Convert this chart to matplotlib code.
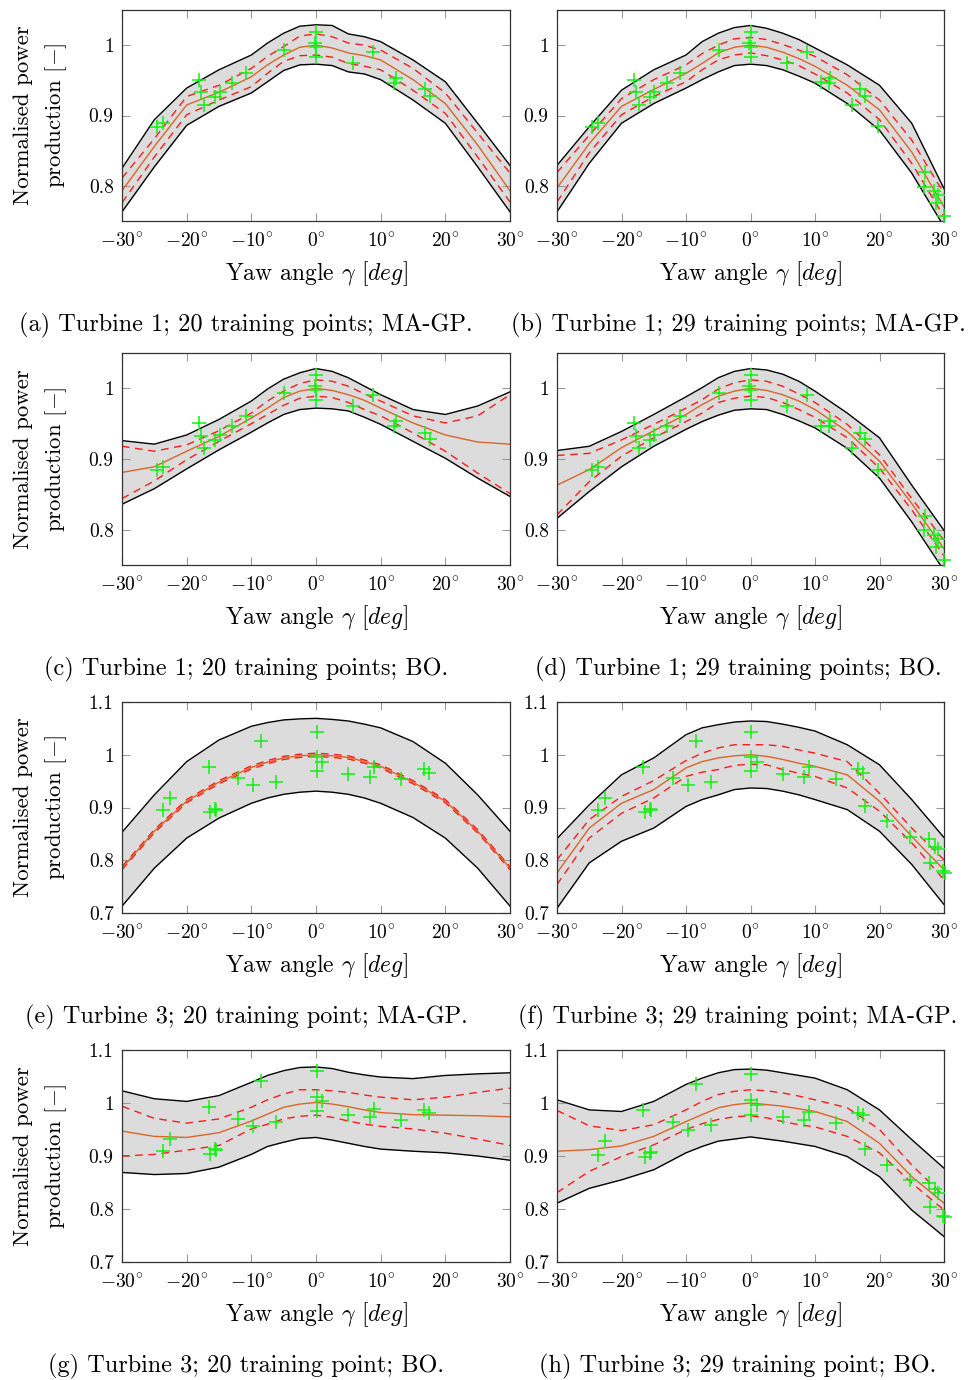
import matplotlib
matplotlib.use("Agg")
import matplotlib.pyplot as plt

plt.rcParams['font.family'] = 'serif'
plt.rcParams['font.serif'] = ['cmr10']
plt.rcParams['mathtext.fontset'] = 'cm'
plt.rcParams['axes.unicode_minus'] = False

yaw_grid = [-30, -25, -20, -15, -10, -7.5, -5, -2.5, 0, 2.5, 5, 7.5, 10, 15, 20, 25, 30]

# (a) turbine 1, 20 pts, MA-GP
a_band_hi = [0.825, 0.894, 0.939, 0.965, 0.986, 1.003, 1.017, 1.027, 1.029, 1.028, 1.016, 1.012, 1.005, 0.979, 0.948, 0.889, 0.829]
a_dash_hi = [0.811, 0.867, 0.927, 0.943, 0.967, 0.984, 0.998, 1.013, 1.016, 1.012, 1.003, 1.000, 0.993, 0.967, 0.932, 0.875, 0.818]
a_mean    = [0.793, 0.856, 0.915, 0.933, 0.955, 0.972, 0.986, 0.997, 1.000, 0.996, 0.989, 0.985, 0.979, 0.951, 0.917, 0.858, 0.793]
a_dash_lo = [0.776, 0.841, 0.901, 0.922, 0.941, 0.960, 0.977, 0.985, 0.986, 0.983, 0.974, 0.970, 0.965, 0.936, 0.903, 0.841, 0.777]
a_band_lo = [0.763, 0.827, 0.886, 0.913, 0.932, 0.948, 0.964, 0.972, 0.973, 0.971, 0.962, 0.959, 0.951, 0.922, 0.889, 0.827, 0.763]

# (b) turbine 1, 29 pts, MA-GP
b_band_hi = [0.829, 0.884, 0.936, 0.965, 0.986, 1.005, 1.017, 1.025, 1.028, 1.024, 1.017, 1.008, 0.996, 0.972, 0.943, 0.889, 0.796]
b_dash_hi = [0.819, 0.872, 0.924, 0.951, 0.972, 0.988, 1.000, 1.009, 1.011, 1.008, 1.001, 0.993, 0.984, 0.958, 0.922, 0.865, 0.789]
b_mean    = [0.797, 0.860, 0.913, 0.937, 0.960, 0.974, 0.989, 0.997, 1.000, 0.997, 0.990, 0.981, 0.970, 0.943, 0.908, 0.848, 0.770]
b_dash_lo = [0.777, 0.847, 0.901, 0.927, 0.948, 0.965, 0.979, 0.986, 0.989, 0.985, 0.979, 0.971, 0.959, 0.932, 0.894, 0.832, 0.756]
b_band_lo = [0.763, 0.832, 0.889, 0.917, 0.939, 0.951, 0.962, 0.971, 0.973, 0.971, 0.965, 0.956, 0.946, 0.917, 0.879, 0.818, 0.742]

# (c) turbine 1, 20 pts, BO
c_band_hi = [0.926, 0.921, 0.934, 0.956, 0.982, 0.999, 1.013, 1.022, 1.028, 1.024, 1.015, 1.003, 0.991, 0.970, 0.963, 0.975, 0.995]
c_dash_hi = [0.918, 0.911, 0.920, 0.940, 0.965, 0.982, 0.996, 1.007, 1.012, 1.010, 1.003, 0.992, 0.982, 0.961, 0.951, 0.961, 0.991]
c_mean    = [0.881, 0.889, 0.911, 0.932, 0.958, 0.972, 0.987, 0.996, 1.000, 0.997, 0.991, 0.983, 0.972, 0.951, 0.934, 0.924, 0.921]
c_dash_lo = [0.844, 0.869, 0.899, 0.925, 0.950, 0.963, 0.976, 0.986, 0.989, 0.987, 0.980, 0.970, 0.961, 0.937, 0.911, 0.880, 0.851]
c_band_lo = [0.836, 0.858, 0.886, 0.913, 0.938, 0.951, 0.963, 0.970, 0.972, 0.971, 0.968, 0.959, 0.949, 0.925, 0.901, 0.873, 0.847]

# (d) turbine 1, 29 pts, BO
d_band_hi = [0.912, 0.918, 0.939, 0.963, 0.988, 1.001, 1.015, 1.024, 1.028, 1.026, 1.020, 1.010, 0.996, 0.965, 0.930, 0.863, 0.799]
d_dash_hi = [0.905, 0.908, 0.927, 0.949, 0.972, 0.984, 0.999, 1.008, 1.012, 1.010, 1.003, 0.992, 0.980, 0.949, 0.906, 0.844, 0.785]
d_mean    = [0.863, 0.885, 0.916, 0.940, 0.963, 0.977, 0.989, 0.996, 1.000, 0.997, 0.991, 0.982, 0.970, 0.939, 0.897, 0.837, 0.773]
d_dash_lo = [0.821, 0.868, 0.904, 0.930, 0.953, 0.965, 0.980, 0.986, 0.989, 0.987, 0.980, 0.970, 0.959, 0.930, 0.887, 0.828, 0.763]
d_band_lo = [0.816, 0.854, 0.889, 0.918, 0.942, 0.953, 0.962, 0.969, 0.971, 0.970, 0.963, 0.954, 0.944, 0.915, 0.873, 0.811, 0.742]

# (e) turbine 3, 20 pts, MA-GP
e_band_hi = [0.853, 0.924, 0.987, 1.028, 1.054, 1.061, 1.066, 1.068, 1.069, 1.067, 1.064, 1.058, 1.051, 1.025, 0.984, 0.924, 0.855]
e_dash_hi = [0.788, 0.858, 0.915, 0.951, 0.979, 0.989, 0.997, 1.001, 1.003, 1.001, 0.998, 0.990, 0.981, 0.951, 0.915, 0.858, 0.788]
e_mean    = [0.785, 0.855, 0.912, 0.948, 0.976, 0.986, 0.994, 0.998, 1.000, 0.998, 0.995, 0.987, 0.978, 0.948, 0.912, 0.855, 0.785]
e_dash_lo = [0.782, 0.852, 0.909, 0.945, 0.973, 0.983, 0.991, 0.995, 0.997, 0.995, 0.992, 0.984, 0.975, 0.945, 0.909, 0.852, 0.782]
e_band_lo = [0.713, 0.785, 0.842, 0.880, 0.908, 0.918, 0.925, 0.929, 0.931, 0.929, 0.925, 0.918, 0.908, 0.881, 0.842, 0.785, 0.713]

# (f) turbine 3, 29 pts, MA-GP
f_band_hi = [0.841, 0.905, 0.962, 0.994, 1.038, 1.051, 1.057, 1.062, 1.064, 1.063, 1.058, 1.052, 1.045, 1.019, 0.981, 0.915, 0.843]
f_dash_hi = [0.801, 0.877, 0.921, 0.951, 0.989, 1.003, 1.013, 1.019, 1.019, 1.019, 1.016, 1.009, 1.003, 0.987, 0.927, 0.861, 0.801]
f_mean    = [0.776, 0.861, 0.908, 0.934, 0.975, 0.987, 0.994, 0.998, 1.000, 0.997, 0.991, 0.984, 0.978, 0.962, 0.912, 0.845, 0.782]
f_dash_lo = [0.754, 0.842, 0.889, 0.918, 0.959, 0.967, 0.972, 0.980, 0.982, 0.981, 0.972, 0.965, 0.959, 0.937, 0.893, 0.833, 0.763]
f_band_lo = [0.709, 0.795, 0.836, 0.861, 0.902, 0.915, 0.924, 0.934, 0.937, 0.936, 0.931, 0.924, 0.915, 0.896, 0.855, 0.792, 0.716]

# (g) turbine 3, 20 pts, BO
g_band_hi = [1.023, 1.008, 1.003, 1.014, 1.039, 1.052, 1.061, 1.067, 1.068, 1.065, 1.058, 1.053, 1.049, 1.046, 1.052, 1.055, 1.057]
g_dash_hi = [0.994, 0.971, 0.962, 0.970, 0.992, 1.006, 1.017, 1.025, 1.025, 1.023, 1.020, 1.015, 1.011, 1.006, 1.011, 1.020, 1.028]
g_mean    = [0.947, 0.937, 0.935, 0.944, 0.966, 0.979, 0.992, 0.998, 1.001, 0.998, 0.993, 0.987, 0.982, 0.978, 0.977, 0.976, 0.974]
g_dash_lo = [0.900, 0.903, 0.911, 0.920, 0.951, 0.960, 0.970, 0.975, 0.977, 0.973, 0.966, 0.960, 0.956, 0.951, 0.943, 0.932, 0.920]
g_band_lo = [0.869, 0.865, 0.867, 0.879, 0.903, 0.918, 0.926, 0.933, 0.935, 0.930, 0.924, 0.918, 0.913, 0.909, 0.906, 0.900, 0.892]

# (h) turbine 3, 29 pts, BO
h_band_hi = [1.006, 0.987, 0.984, 1.003, 1.035, 1.047, 1.057, 1.063, 1.064, 1.062, 1.057, 1.052, 1.047, 1.025, 0.987, 0.931, 0.877]
h_dash_hi = [0.986, 0.957, 0.948, 0.959, 0.987, 1.003, 1.016, 1.022, 1.025, 1.023, 1.019, 1.013, 1.006, 0.991, 0.950, 0.883, 0.824]
h_mean    = [0.909, 0.912, 0.919, 0.937, 0.965, 0.978, 0.991, 0.997, 1.000, 0.997, 0.994, 0.989, 0.984, 0.965, 0.924, 0.861, 0.811]
h_dash_lo = [0.831, 0.871, 0.899, 0.921, 0.950, 0.961, 0.969, 0.974, 0.976, 0.972, 0.965, 0.959, 0.955, 0.937, 0.906, 0.849, 0.798]
h_band_lo = [0.811, 0.839, 0.855, 0.874, 0.906, 0.918, 0.928, 0.932, 0.936, 0.932, 0.928, 0.923, 0.918, 0.899, 0.861, 0.798, 0.748]

# training points
t1_yaw = [-24.6, -23.7, -18.1, -17.8, -17.3, -15.6, -14.9, -13.0, -10.9, -4.9,
          0.0, -0.2, 0.0, 0.0, 5.7, 8.8, 12.1, 12.4, 16.9, 17.7]
t1_pow = [0.884, 0.889, 0.951, 0.933, 0.915, 0.927, 0.934, 0.946, 0.961, 0.993,
          1.019, 1.003, 0.997, 0.983, 0.975, 0.990, 0.946, 0.954, 0.937, 0.928]
t1_yaw_extra = [10.9, 15.7, 19.8, 27.0, 26.9, 28.5, 28.7, 29.0, 30.0]
t1_pow_extra = [0.947, 0.915, 0.885, 0.819, 0.799, 0.793, 0.775, 0.787, 0.757]

t3_yaw = [-23.6, -22.6, -16.6, -16.4, -15.6, -15.4, -12.0, -9.7, -8.5, -6.2,
          0.1, 0.1, 0.1, 1.0, 5.0, 8.3, 9.0, 13.2, 16.7, 17.4]
t3_pow = [0.895, 0.918, 0.977, 0.891, 0.898, 0.896, 0.956, 0.943, 1.027, 0.949,
          1.044, 0.995, 0.970, 0.987, 0.964, 0.957, 0.976, 0.954, 0.973, 0.965]
t3_yaw_extra = [17.8, 21.1, 24.7, 27.7, 27.8, 28.6, 29.1, 29.8, 30.1]
t3_pow_extra = [0.902, 0.875, 0.845, 0.840, 0.795, 0.826, 0.821, 0.779, 0.776]

g_pts = [0.909, 0.933, 0.992, 0.904, 0.913, 0.911, 0.970, 0.956, 1.042, 0.965,
         1.060, 1.011, 0.985, 1.003, 0.978, 0.973, 0.989, 0.968, 0.987, 0.981]
h_pts = [0.902, 0.928, 0.986, 0.899, 0.906, 0.907, 0.965, 0.950, 1.036, 0.959,
         1.054, 1.005, 0.978, 0.997, 0.974, 0.967, 0.983, 0.962, 0.981, 0.977,
         0.913, 0.883, 0.854, 0.850, 0.804, 0.838, 0.830, 0.787, 0.785]

captions = ["(a) Turbine 1; 20 training points; MA-GP.",
            "(b) Turbine 1; 29 training points; MA-GP.",
            "(c) Turbine 1; 20 training points; BO.",
            "(d) Turbine 1; 29 training points; BO.",
            "(e) Turbine 3; 20 training point; MA-GP.",
            "(f) Turbine 3; 29 training point; MA-GP.",
            "(g) Turbine 3; 20 training point; BO.",
            "(h) Turbine 3; 29 training point; BO."]

panels = [
    (a_band_hi, a_dash_hi, a_mean, a_dash_lo, a_band_lo, t1_yaw, t1_pow),
    (b_band_hi, b_dash_hi, b_mean, b_dash_lo, b_band_lo, t1_yaw + t1_yaw_extra, t1_pow + t1_pow_extra),
    (c_band_hi, c_dash_hi, c_mean, c_dash_lo, c_band_lo, t1_yaw, t1_pow),
    (d_band_hi, d_dash_hi, d_mean, d_dash_lo, d_band_lo, t1_yaw + t1_yaw_extra, t1_pow + t1_pow_extra),
    (e_band_hi, e_dash_hi, e_mean, e_dash_lo, e_band_lo, t3_yaw, t3_pow),
    (f_band_hi, f_dash_hi, f_mean, f_dash_lo, f_band_lo, t3_yaw + t3_yaw_extra, t3_pow + t3_pow_extra),
    (g_band_hi, g_dash_hi, g_mean, g_dash_lo, g_band_lo, t3_yaw, g_pts),
    (h_band_hi, h_dash_hi, h_mean, h_dash_lo, h_band_lo, t3_yaw + t3_yaw_extra, h_pts),
]

W, H = 968, 1380
fig = plt.figure(figsize=(W / 100, H / 100), dpi=100)

cols = [(122, 510), (557, 944)]
rows = [(10, 221), (353, 565), (702, 913), (1050, 1262)]
cap_x = [246, 738]

xt = [-30, -20, -10, 0, 10, 20, 30]
xt_lab = [r'$%d^{\circ}$' % v if v >= 0 else r'$-%d^{\circ}$' % (-v) for v in xt]

for i, p in enumerate(panels):
    r, c = i // 2, i % 2
    x0, x1 = cols[c]
    y0, y1 = rows[r]
    ax = fig.add_axes([x0 / W, 1 - y1 / H, (x1 - x0) / W, (y1 - y0) / H])
    bhi, dhi, mean, dlo, blo, px, py = p

    ax.fill_between(yaw_grid, blo, bhi, color='#dcdcdc', lw=0)
    ax.plot(yaw_grid, bhi, color='black', lw=1.0)
    ax.plot(yaw_grid, blo, color='black', lw=1.0)
    ax.plot(yaw_grid, dhi, color='#ff1a1a', lw=1.0, dashes=(5.5, 4))
    ax.plot(yaw_grid, dlo, color='#ff1a1a', lw=1.0, dashes=(5.5, 4))
    ax.plot(yaw_grid, mean, color='#dc6428', lw=1.0)
    ax.plot(px, py, ls='none', marker='+', ms=10.5, mew=1.1, color='#14f014', clip_on=False, zorder=5)

    ax.set_xlim(-30, 30)
    ax.set_xticks(xt)
    ax.set_xticklabels(xt_lab)
    if r < 2:
        ax.set_ylim(0.75, 1.05)
        ax.set_yticks([0.8, 0.9, 1.0])
        ax.set_yticklabels(['0.8', '0.9', '1'])
    else:
        ax.set_ylim(0.7, 1.1)
        ax.set_yticks([0.7, 0.8, 0.9, 1.0, 1.1])
        ax.set_yticklabels(['0.7', '0.8', '0.9', '1', '1.1'])
    ax.tick_params(direction='in', top=True, right=True, length=6, width=0.8,
                   color='#999999', labelsize=14)
    ax.tick_params(axis='x', pad=8)
    ax.tick_params(axis='y', pad=6)
    for s in ax.spines.values():
        s.set_linewidth(0.9)
        s.set_color('#333333')

    xc = (x0 + x1) / 2
    fig.text(xc / W, 1 - (y1 + 53) / H, r'Yaw angle $\gamma$ $[deg]$', ha='center', va='center', fontsize=17)
    fig.text(cap_x[c] / W, 1 - (y1 + 104) / H, captions[i], ha='center', va='center', fontsize=17.5)
    if c == 0:
        yc = (y0 + y1) / 2
        fig.text(23 / W, 1 - yc / H, 'Normalised power', rotation=90, ha='center', va='center', fontsize=16.5)
        fig.text(56 / W, 1 - yc / H, r'production $[-]$', rotation=90, ha='center', va='center', fontsize=16.5)

fig.savefig('out.png', dpi=100)
